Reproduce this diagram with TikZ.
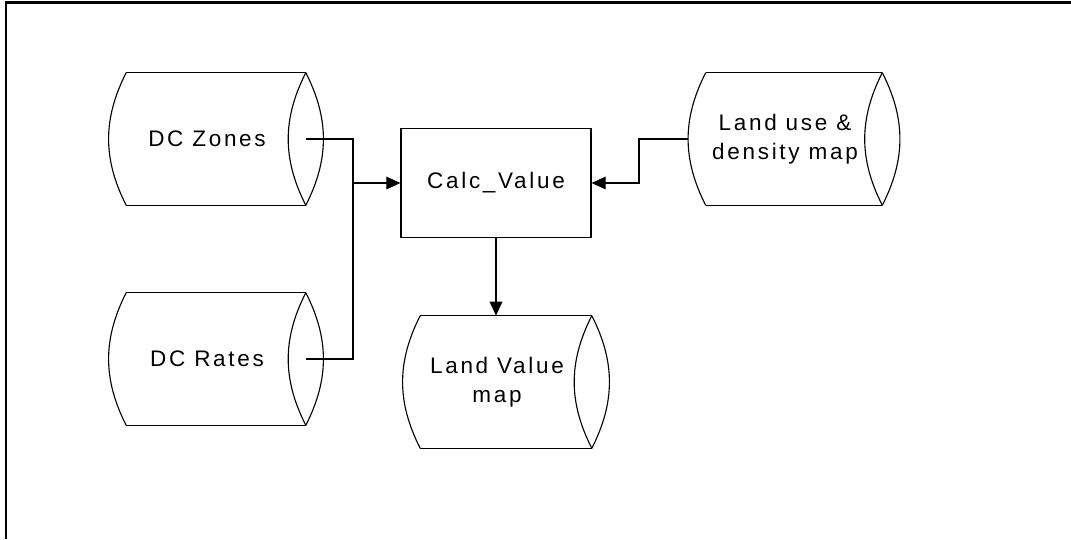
\documentclass[tikz,border=0pt]{standalone}
\usepackage{fontspec}
\usetikzlibrary{arrows.meta}
\newfontfamily\labelfont[LetterSpace=12]{Liberation Sans}

\begin{document}
\begin{tikzpicture}[
    x=0.025cm, y=0.025cm,
    store/.style={rectangle, minimum height=3.3cm, inner sep=0pt,
        align=center, font=\labelfont\fontsize{16pt}{21pt}\selectfont,
        append after command={
            ([xshift=0.45cm]\tikzlastnode.north west) edge[line] (\tikzlastnode.north east)
            ([xshift=0.45cm]\tikzlastnode.south west) edge[line] (\tikzlastnode.south east)
            ([xshift=0.45cm]\tikzlastnode.north west) edge[line, bend right=27] ([xshift=0.45cm]\tikzlastnode.south west)
            (\tikzlastnode.north east) edge[line, bend right=27] (\tikzlastnode.south east)
            (\tikzlastnode.north east) edge[line, bend left=27] (\tikzlastnode.south east)
        }},
    process/.style={rectangle, draw=black, line width=0.8pt,
        minimum width=4.75cm, minimum height=2.725cm,
        font=\labelfont\fontsize{16pt}{21pt}\selectfont},
    line/.style={draw=black, line width=0.8pt},
    edge/.style={line, -},
    arrow/.style={line, -{Triangle[length=10pt, width=9pt]}},
    frame/.style={draw=black, line width=1.6pt}
]
    \useasboundingbox (0,0) rectangle (1071,539);
    \draw[frame] (1071,536.5) -- (6,536.5) -- (6,0);

    \node[store, minimum width=4.925cm] (zones) at (207,400) {DC Zones};
    \node[store, minimum width=4.925cm] (rates) at (207,180) {DC Rates};
    \node[store, minimum width=4.85cm] (landuse) at (785,400) {Land use \&\\density map};
    \node[store, minimum width=4.725cm] (landvalue) at (497,157) {Land Value\\map};
    \node[process] (calc) at (496,356) {Calc\_Value};

    \coordinate (bus) at (353,356);
    \coordinate (tap) at (639,356);

    \draw[edge] (zones.east) -| (bus) |- (rates.east);
    \draw[arrow] (bus) -- (calc.west);
    \draw[arrow] (landuse.west) -| (tap) -- (calc.east);
    \draw[arrow] (calc.south) -- (calc.south |- landvalue.north);
\end{tikzpicture}
\end{document}
